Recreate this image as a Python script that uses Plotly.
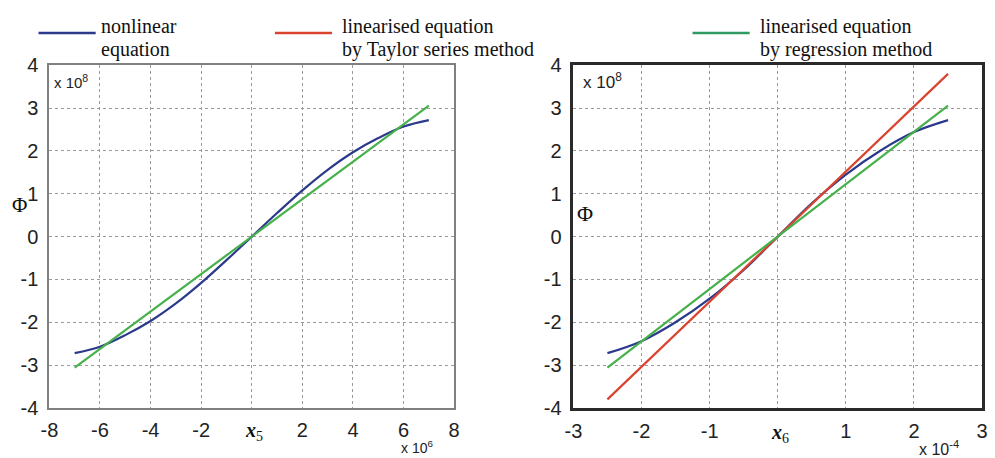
import plotly.graph_objects as go

# ---- data ----
x5_nonlin = [-7, -6, -5, -4, -3, -2, -1, 0, 1, 2, 3, 4, 5, 6, 7]            # x 10^6
phi5_nonlin = [-2.72, -2.57, -2.30, -1.97, -1.56, -1.08, -0.55, 0, 0.55, 1.08, 1.56, 1.97, 2.30, 2.57, 2.72]
x5_regr = [-7, 7]
phi5_regr = [-3.06, 3.06]

x6_nonlin = [-2.5, -2.0, -1.5, -1.0, -0.5, 0, 0.5, 1.0, 1.5, 2.0, 2.5]       # x 10^-4
phi6_nonlin = [-2.72, -2.44, -2.0, -1.45, -0.78, 0, 0.78, 1.45, 2.0, 2.44, 2.72]
x6_taylor = [-2.5, 2.5]
phi6_taylor = [-3.8, 3.8]
x6_regr = [-2.5, 2.5]
phi6_regr = [-3.06, 3.06]

x5_ticks = [-8, -6, -4, -2, 0, 2, 4, 6, 8]
x5_labels = ["-8", "-6", "-4", "-2", "", "2", "4", "6", "8"]
x6_ticks = [-3, -2, -1, 0, 1, 2, 3]
x6_labels = ["-3", "-2", "-1", "", "1", "2", "3"]
y_ticks = [-4, -3, -2, -1, 0, 1, 2, 3, 4]
y_labels = ["-4", "-3", "-2", "-1", "0", "1", "2", "3", "4"]

legend_lines = [
    ["nonlinear", "equation"],
    ["linearised equation", "by Taylor series method"],
    ["linearised equation", "by regression method"],
]

BLUE = "#2b3a8c"
RED = "#d9432f"
GREEN = "#46b04a"
W, H = 995, 458

def px(x):
    return x / W

def py(y):
    return 1 - y / H

fig = go.Figure()
fig.add_trace(go.Scatter(x=x5_nonlin, y=phi5_nonlin, mode="lines", line=dict(color=BLUE, width=2.2, shape="spline"),
                         xaxis="x", yaxis="y", showlegend=False))
fig.add_trace(go.Scatter(x=x5_regr, y=phi5_regr, mode="lines", line=dict(color=GREEN, width=2.2),
                         xaxis="x", yaxis="y", showlegend=False))
fig.add_trace(go.Scatter(x=x6_nonlin, y=phi6_nonlin, mode="lines", line=dict(color=BLUE, width=2.2, shape="spline"),
                         xaxis="x2", yaxis="y2", showlegend=False))
fig.add_trace(go.Scatter(x=x6_taylor, y=phi6_taylor, mode="lines", line=dict(color=RED, width=2.2),
                         xaxis="x2", yaxis="y2", showlegend=False))
fig.add_trace(go.Scatter(x=x6_regr, y=phi6_regr, mode="lines", line=dict(color=GREEN, width=2.2),
                         xaxis="x2", yaxis="y2", showlegend=False))

tickfont = dict(family="Liberation Sans, Arial", size=20, color="#222")
grid = dict(showgrid=True, gridcolor="#9a9a9a", griddash="dot", gridwidth=1, zeroline=False, ticks="",
            tickfont=tickfont, fixedrange=True)

ydom = [py(417), py(57)]
fig.update_layout(
    width=W, height=H,
    margin=dict(l=0, r=0, t=0, b=0),
    paper_bgcolor="white", plot_bgcolor="white",
    xaxis=dict(domain=[px(41), px(452)], range=[-8, 8], tickvals=x5_ticks, ticktext=x5_labels,
               showline=True, linecolor="#808080", linewidth=2, mirror=True, anchor="y", ticklabelstandoff=3, **grid),
    yaxis=dict(domain=ydom, range=[-4, 4], tickvals=y_ticks, ticktext=y_labels,
               showline=True, linecolor="#808080", linewidth=2, mirror=True, anchor="x", ticklabelstandoff=5, **grid),
    xaxis2=dict(domain=[px(573), px(988)], range=[-3, 3], tickvals=x6_ticks, ticktext=x6_labels,
                showline=True, linecolor="#2a2a2a", linewidth=2.5, mirror=True, anchor="y2", ticklabelstandoff=3, **grid),
    yaxis2=dict(domain=ydom, range=[-4, 4], tickvals=y_ticks, ticktext=y_labels,
                showline=True, linecolor="#2a2a2a", linewidth=2.5, mirror=True, anchor="x2", ticklabelstandoff=5, **grid),
)

serif = dict(family="Liberation Serif, Times New Roman", size=20, color="#111")
sans_small = dict(family="Liberation Sans, Arial", size=14, color="#222")

annos = []
for xl, lines in zip([91, 336, 760], legend_lines):
    for yl, t in zip([16, 40], lines):
        annos.append(dict(x=px(xl), y=py(yl), text=t, xanchor="left", yanchor="middle", font=serif))

annos += [
    # exponent labels
    dict(x=px(44), y=py(62), text="x 10<sup>8</sup>", xanchor="left", yanchor="top",
         font=dict(family="Liberation Sans, Arial", size=15, color="#222")),
    dict(x=px(581), y=py(60), text="x 10<sup>8</sup>", xanchor="left", yanchor="top",
         font=dict(family="Liberation Sans, Arial", size=17, color="#222")),
    dict(x=px(396), y=py(446), text="x 10<sup>6</sup>", xanchor="left", yanchor="top", font=sans_small),
    dict(x=px(922), y=py(446), text="x 10<sup>-4</sup>", xanchor="left", yanchor="top",
         font=dict(family="Liberation Sans, Arial", size=16, color="#222")),
    # axis titles
    dict(x=px(249), y=py(442), text="<b><i>x</i></b><sub>5</sub>", xanchor="center", yanchor="middle",
         font=dict(family="Liberation Serif, Times New Roman", size=20, color="#111")),
    dict(x=px(783), y=py(444), text="<b><i>x</i></b><sub>6</sub>", xanchor="center", yanchor="middle",
         font=dict(family="Liberation Serif, Times New Roman", size=20, color="#111")),
    dict(x=px(11), y=py(204), text="Φ", xanchor="center", yanchor="middle",
         font=dict(family="Liberation Serif, Times New Roman", size=21, color="#111")),
    dict(x=px(585), y=py(213), text="Φ", xanchor="center", yanchor="middle",
         font=dict(family="Liberation Serif, Times New Roman", size=22, color="#111")),
]
for a in annos:
    a["showarrow"] = False
    a["xref"] = "paper"
    a["yref"] = "paper"
fig.update_layout(annotations=annos)

shapes = []
for (x0, x1, c) in [(30, 88, BLUE), (270, 328, RED), (694, 752, "#2f9a62")]:
    shapes.append(dict(type="line", xref="paper", yref="paper", x0=px(x0), x1=px(x1), y0=py(23), y1=py(23),
                       line=dict(color=c, width=2.5)))
fig.update_layout(shapes=shapes)

fig.write_html("out.html")
